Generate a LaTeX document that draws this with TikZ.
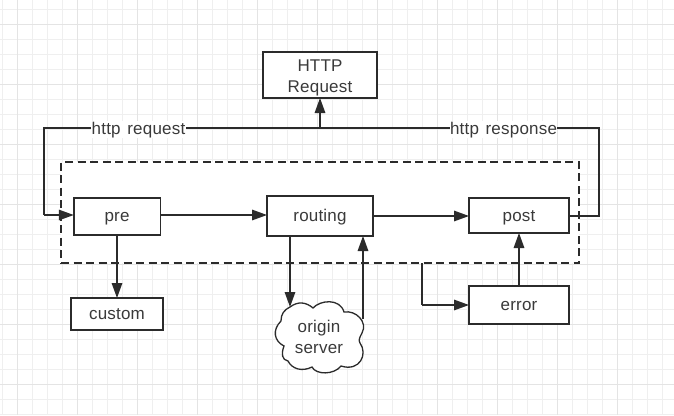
\documentclass[tikz,border=0pt]{standalone}
\usepackage{fontspec}
\setmainfont[WordSpace=1.35]{Liberation Sans}
\usetikzlibrary{arrows.meta,calc}
\definecolor{ink}{HTML}{2B2B2B}
\definecolor{txt}{HTML}{3A3A3A}
\definecolor{gridminor}{HTML}{EFEFEF}
\definecolor{gridmajor}{HTML}{E4E4E4}
\newcommand{\lbl}{\fontsize{17}{21}\selectfont\addfontfeatures{LetterSpace=1.2}}
\tikzset{
  x=1pt,y=-1pt,
  stagebox/.style={draw=ink,line width=1.5pt,fill=white,text=txt,inner sep=0pt,outer sep=0pt,align=center,font=\lbl},
  oneline/.style={stagebox,text height=13pt,text depth=2.5pt},
  wire/.style={draw=ink,line width=1.5pt},
  flow/.style={wire,-{Triangle[length=15pt,width=10.5pt]}},
  tag/.style={fill=white,text=txt,inner sep=0.5pt,outer sep=0pt,font=\lbl,text height=13pt,text depth=3.5pt},
}
\begin{document}
\begin{tikzpicture}
\useasboundingbox (0,0) rectangle (674,415);
\fill[white] (0,0) rectangle (674,415);
% grid
\foreach \i in {2,17,...,672} \draw[gridminor,line width=1pt] (\i,0) -- (\i,415);
\foreach \j in {9,24,...,414} \draw[gridminor,line width=1pt] (0,\j) -- (674,\j);
\foreach \i in {17,77,...,672} \draw[gridmajor,line width=1pt] (\i,0) -- (\i,415);
\foreach \j in {24,84,...,414} \draw[gridmajor,line width=1pt] (0,\j) -- (674,\j);
% dashed container
\node[draw=ink,line width=1.5pt,dash pattern=on 8pt off 4.5pt,fill=white,inner sep=0pt,outer sep=0pt,minimum width=518pt,minimum height=101pt] (frame) at (320,212.5) {};
% boxes
\node[stagebox,minimum width=114pt,minimum height=46pt] (http) at (320,75) {\rule{0pt}{17pt}HTTP\\Request};
\node[oneline,minimum width=86.5pt,minimum height=37pt] (pre) at (117,216.5) {pre};
\node[oneline,minimum width=106pt,minimum height=40pt] (routing) at (320,216) {routing};
\node[oneline,minimum width=100pt,minimum height=35pt,text height=14pt,text depth=1.5pt] (post) at (519,215.5) {post};
\node[oneline,minimum width=100pt,minimum height=38pt] (error) at (519,305) {error};
\node[oneline,minimum width=92pt,minimum height=32pt] (custom) at (117,314) {custom};
% cloud
\draw[wire,line width=1.3pt,fill=white]
  (290,307) .. controls (298,301) and (306,302) .. (313,308)
  .. controls (320,300) and (340,298) .. (344,312)
  .. controls (356,310) and (368,322) .. (362,333)
  .. controls (360,337) and (358,340) .. (360,343)
  .. controls (368,354) and (360,372) .. (341,366)
  .. controls (334,375) and (316,375) .. (312,367)
  .. controls (302,372) and (292,369) .. (288,361)
  .. controls (282,360) and (281,354) .. (284,346)
  .. controls (274,341) and (272,330) .. (281,321)
  .. controls (281,314) and (284,310) .. (290,307) -- cycle;
\node[text=txt,font=\lbl,align=center,inner sep=0pt] (origin) at (319,337) {origin\\server};
% named joints
\coordinate (join) at (320,128);
\coordinate (lefttop) at (44,128);
\coordinate (leftbot) at (44,215);
\coordinate (righttop) at (599,128);
\coordinate (rightbot) at (599,216);
\coordinate (prein) at (73.75,215);
\coordinate (postout) at (569,216);
\coordinate (routeout) at (290,236);
\coordinate (cloudin) at (290,307);
\coordinate (cloudout) at (363,319);
\coordinate (routein) at (363,236);
\coordinate (frameout) at (422,263);
\coordinate (framecorner) at (422,305);
% connectors
\draw[wire] (join) -- (lefttop) -- (leftbot);
\draw[flow] (leftbot) -- (prein);
\draw[wire] (postout) -- (rightbot) -- (righttop) -- (join);
\draw[flow] (join) -- (http.south);
\draw[flow] (pre.east |- 0,215) -- (routing.west |- 0,215);
\draw[flow] (routing.east) -- (post.west |- routing.east);
\draw[flow] (pre.south) -- (custom.north);
\draw[flow] (routeout) -- (cloudin);
\draw[flow] (cloudout) -- (routein);
\draw[wire] (frameout) -- (framecorner);
\draw[flow] (framecorner) -- (error.west);
\draw[flow] (error.north) -- (post.south);
% labels
\node[tag] (reqlabel) at (138.5,129.5) {http request};
\node[tag] (resplabel) at (503.5,129.5) {http response};
\end{tikzpicture}
\end{document}
